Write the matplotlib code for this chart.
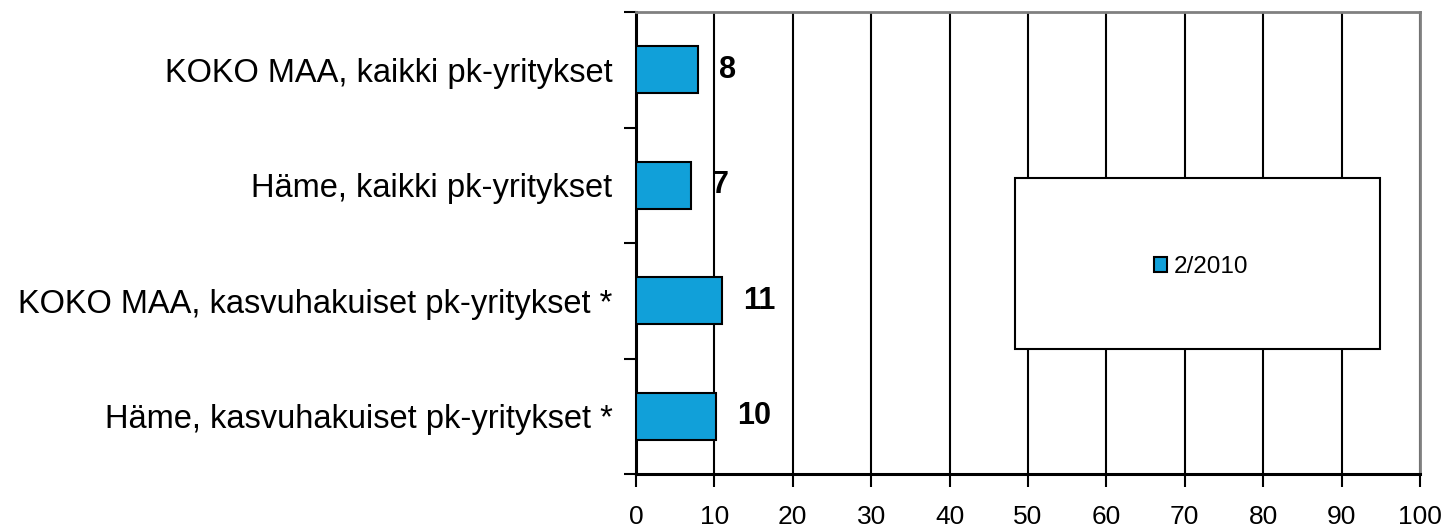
import matplotlib.pyplot as plt
from matplotlib.patches import Rectangle

plt.rcParams['font.family'] = ['Liberation Sans', 'DejaVu Sans']

# data
categories = ['KOKO MAA, kaikki pk-yritykset',
              'Häme, kaikki pk-yritykset',
              'KOKO MAA, kasvuhakuiset pk-yritykset *',
              'Häme, kasvuhakuiset pk-yritykset *']
values = [7.9, 7.0, 11.0, 10.2]
series_name = '2/2010'
x_ticks = [0, 10, 20, 30, 40, 50, 60, 70, 80, 90, 100]

bar_color = '#11A0D9'

fig = plt.figure(figsize=(14.48, 5.30), dpi=100)
ax = fig.add_axes([636 / 1448, 1 - 474 / 530, 784 / 1448, 462 / 530])

pos = list(range(len(categories)))
bars = ax.barh(pos, values, height=0.41, color=bar_color, edgecolor='black',
               linewidth=1.5, label=series_name, zorder=3)

# value labels
for p, v in zip(pos, values):
    ax.annotate(str(round(v)), xy=(v, p), xytext=(15, 0), textcoords='offset points',
                ha='left', va='center', fontsize=22, fontweight='bold', zorder=4)

ax.set_xlim(0, 100)
ax.set_ylim(len(categories) - 0.5, -0.5)
ax.set_xticks(x_ticks)
ax.set_xticklabels([str(t) for t in x_ticks], fontsize=19)
ax.set_yticks(pos)
ax.set_yticklabels(categories, fontsize=23.5)
ax.set_yticks([p - 0.5 for p in pos] + [len(categories) - 0.5], minor=True)
ax.tick_params(axis='y', which='major', length=0, pad=17)
ax.tick_params(axis='y', which='minor', length=9, width=1.5, direction='out')
ax.tick_params(axis='x', length=9, width=1.5, direction='out', pad=13)

ax.grid(axis='x', color='black', linewidth=1.5, zorder=0)
ax.set_axisbelow(True)
for s in ['left', 'bottom']:
    ax.spines[s].set_linewidth(2.2)
    ax.spines[s].set_color('black')
for s in ['top', 'right']:
    ax.spines[s].set_linewidth(2)
    ax.spines[s].set_color('#808080')

# legend box
box = Rectangle((0.483, 0.2706), 0.466, 0.3704, transform=ax.transAxes,
                facecolor='white', edgecolor='black', linewidth=1.5, zorder=5)
ax.add_patch(box)
leg = ax.legend(loc='center', bbox_to_anchor=(0.7207, 0.448), frameon=False,
                fontsize=17.5, handlelength=0.55, handleheight=0.55, handletextpad=0.25)
leg.set_zorder(6)

fig.savefig('out.png', dpi=100)
